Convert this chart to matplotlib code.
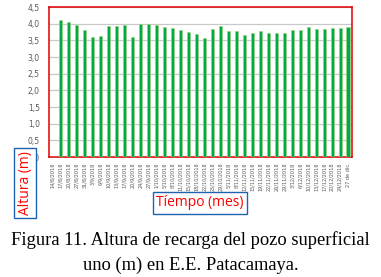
import numpy as np
import matplotlib
matplotlib.use("Agg")
import matplotlib.pyplot as plt

# Fechas de medicion (eje x)
fechas = ["14/8/2018", "17/8/2018", "20/8/2018", "27/8/2018", "31/8/2018",
          "3/9/2018", "6/9/2018", "10/9/2018", "13/9/2018", "17/9/2018",
          "20/9/2018", "24/9/2018", "27/9/2018", "1/10/2018", "5/10/2018",
          "8/10/2018", "11/10/2018", "15/10/2018", "18/10/2018", "22/10/2018",
          "25/10/2018", "29/10/2018", "5/11/2018", "8/11/2018", "12/11/2018",
          "15/11/2018", "19/11/2018", "22/11/2018", "26/11/2018", "29/11/2018",
          "3/12/2018", "6/12/2018", "10/12/2018", "13/12/2018", "17/12/2018",
          "20/12/2018", "24/12/2018", "27 de dic."]

# Altura de recarga (m); la primera fecha no tiene barra
altura = [np.nan,
          4.11, 4.06, 3.96, 3.81, 3.61, 3.63, 3.93, 3.92, 3.97, 3.61,
          4.00, 3.99, 3.95, 3.91, 3.86, 3.80, 3.74, 3.70, 3.57, 3.83,
          3.93, 3.79, 3.77, 3.66, 3.73, 3.79, 3.73, 3.72, 3.72, 3.81,
          3.82, 3.90, 3.84, 3.85, 3.86, 3.87, 3.89]

yticks = [0, 0.5, 1.0, 1.5, 2.0, 2.5, 3.0, 3.5, 4.0, 4.5]
ytick_labels = ["0,0", "0,5", "1,0", "1,5", "2,0", "2,5", "3,0", "3,5", "4,0", "4,5"]

fig = plt.figure(figsize=(3.81, 2.77), dpi=100)
ax = fig.add_axes([49 / 381, 1 - 157 / 277, 303 / 381, 150 / 277])

x = np.arange(len(fechas))
ax.bar(x, altura, width=0.38, color="#00A84F", edgecolor="#9BD77A",
       linewidth=0.5, zorder=3)

ax.set_xlim(-0.5, len(fechas) - 0.5)
ax.set_ylim(0, 4.5)
ax.set_yticks(yticks)
ax.set_yticklabels(ytick_labels, fontsize=5.5, color="#595959")
ax.set_xticks(x)
ax.set_xticklabels(fechas, rotation=90, fontsize=3.6, color="#595959")
ax.tick_params(length=0)
ax.tick_params(axis="y", pad=6.5)
ax.tick_params(axis="x", pad=4)
ax.yaxis.grid(True, color="#C9C9C9", linewidth=0.9, zorder=0)
for s in ax.spines.values():
    s.set_color("#E00000")
    s.set_linewidth(1.1)

box = dict(boxstyle="square,pad=0.22", facecolor="white", edgecolor="#1F63B0",
           linewidth=1)
fig.text(25 / 381, 1 - 183 / 277, "Altura (m)", rotation=90, color="#FF0000",
         fontsize=10, family="Open Sans", ha="center", va="center", bbox=box)
fig.text(200 / 381, 1 - 203 / 277, "Tíempo (mes)", color="#FF0000",
         fontsize=10, family="Open Sans", ha="center", va="center", bbox=box)

fig.text(0.5, 1 - 240 / 277, "Figura 11. Altura de recarga del pozo superficial",
         fontsize=13.3, family="Liberation Serif", ha="center", va="center")
fig.text(0.5, 1 - 265 / 277, "uno (m) en E.E. Patacamaya.",
         fontsize=13.3, family="Liberation Serif", ha="center", va="center")

fig.savefig("out.png", dpi=100)
